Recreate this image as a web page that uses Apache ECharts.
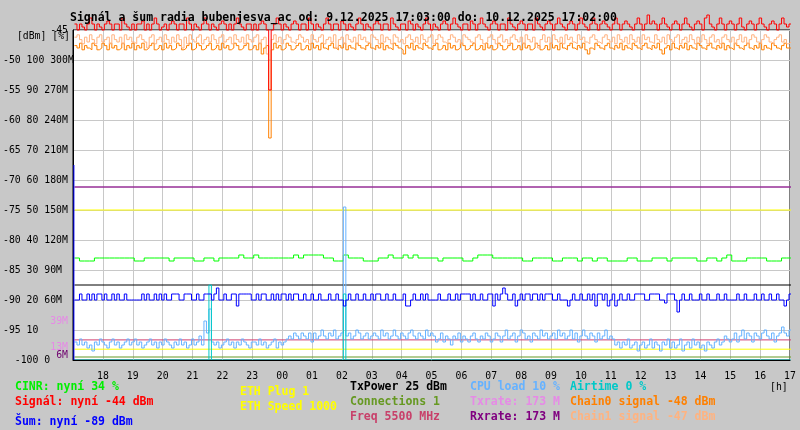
<!DOCTYPE html>
<html><head><meta charset="utf-8">
<script src="https://cdn.jsdelivr.net/npm/echarts@6/dist/echarts.min.js"></script>
<style>html,body{margin:0;padding:0;background:#c8c8c8}#c{width:800px;height:430px}</style>
</head><body><div id="c"></div>
<script>
// time: hours of day (17 = 17:00 on 9.12., 41 = 17:00 on 10.12.), first sample at 17:03
const START = 17 + 3/60;
const STEP5 = 5/60;    // 5-minute samples
const STEP10 = 10/60;  // 10-minute samples
const END = 41 + 2/60;

const yTickValues = [-100,-95,-90,-85,-80,-75,-70,-65,-60,-55,-50,-45];
const yTickLabels = ["  -100 0","-95 10","-90 20 60M","-85 30 90M","-80 40 120M","-75 50 150M","-70 60 180M","-65 70 210M","-60 80 240M","-55 90 270M","-50 100 300M",""];
const rateMarks = [39, 13, 6];
const rateMarkLabels = ["39M","13M","6M"];

// 5-minute samples (288)
const signal = [
-44,-45,-44,-44.5,-45,-44,-43,-44,-45,-44,-44.5,-45,-44,-43.5,-44,-45,-44,-44,-45,-43,-44,-44.5,-45,-44,
-45,-44,-44,-43.5,-45,-44,-45,-44,-43,-44,-45,-44.5,-44,-45,-44,-43.5,-44,-45,-44,-44,-45,-43,-44,-45,
-44,-44.5,-45,-44,-43,-44,-45,-44,-44.5,-45,-44,-43.5,-44,-45,-44,-45,-44,-43,-44,-44.5,-45,-44,-44,-45,
-44,-45,-44,-43.5,-44,-45,-55,-45,-44,-43,-44,-45,-44,-44.5,-45,-44,-43.5,-44,-45,-44,-44,-45,-43,-44,
-45,-44,-44.5,-45,-44,-43,-44,-45,-44,-44,-45,-43.5,-44,-45,-44,-44.5,-45,-44,-43,-44,-45,-44,-44.5,-45,
-44,-43.5,-44,-45,-44,-44,-45,-43,-44,-44.5,-45,-44,-44,-45,-43.5,-44,-45,-44,-44.5,-45,-44,-43,-44,-45,
-44,-44.5,-45,-44,-43.5,-44,-45,-44,-43,-44,-44.5,-45,-44,-44,-45,-43.5,-44,-45,-44,-43,-44,-44.5,-45,-44,
-43.5,-44,-45,-44,-44,-45,-43,-44,-44.5,-45,-44,-43.5,-44,-45,-44,-44,-45,-43,-44,-44.5,-45,-44,-43.5,-44,
-45,-44,-43,-44,-44.5,-45,-44,-43.5,-44,-45,-44,-43,-44,-44.5,-45,-44,-43,-44,-45,-44,-43.5,-44,-44.5,-45,
-44,-43,-44,-45,-44,-43.5,-44,-44.5,-45,-44,-43,-44,-45,-44,-42.5,-44,-43.5,-44,-45,-44,-43,-44,-44.5,-45,
-44,-43.5,-44,-45,-44,-43,-44,-44.5,-45,-44,-43.5,-44,-45,-43,-42.5,-44,-44.5,-45,-44,-43,-44,-45,-44,-43.5,
-44,-45,-44,-43,-44.5,-45,-44,-43.5,-44,-45,-44,-43,-44,-44.5,-45,-44,-43.5,-44,-45,-44,-43,-44,-44.5,-44];

const chain0 = [
-47.6,-48,-47.2,-48.3,-47.6,-48,-48.3,-47.2,-47.6,-48.3,-48,-47.2,-47.6,-48.3,-47.2,-48,-47.6,-48.3,-48,-47.2,-48.3,-47.6,-48,-47.2,
-48.3,-47.6,-48,-47.2,-48.3,-48,-47.6,-47.2,-48.3,-48,-47.6,-48.3,-47.2,-48,-47.6,-48.3,-48,-47.2,-47.6,-48.3,-48,-47.6,-47.2,-48.3,
-48,-47.2,-47.6,-48.3,-48,-47.6,-47.2,-48.3,-48,-47.6,-48.3,-47.2,-48,-47.6,-48.3,-48,-47.2,-47.6,-48.3,-48,-47.6,-47.2,-48.3,-48,
-47.6,-48.3,-47.2,-49,-48,-47.6,-63,-48.3,-47.2,-48,-47.6,-48.3,-48,-47.2,-47.6,-48.3,-48,-47.6,-47.2,-48.3,-48,-47.6,-48.3,-47.2,
-48,-47.6,-48.3,-47.2,-48,-48.3,-47.6,-47.2,-48,-48.3,-47.6,-48,-47.2,-48.3,-47.6,-48,-48.3,-47.2,-47.6,-48,-48.3,-47.6,-47.2,-48,
-48.3,-47.6,-48,-47.2,-48.3,-47.6,-48,-48.3,-47.2,-47.6,-48,-48.3,-49,-47.6,-48,-47.2,-48.3,-47.6,-48,-48.3,-47.2,-47.6,-48,-48.3,
-47.6,-47.2,-48.3,-48,-47.6,-48.3,-47.2,-48,-47.6,-48.3,-48,-47.2,-47.6,-48.3,-48,-47.6,-47.2,-48.3,-48,-47.6,-48.3,-47.2,-48,-47.6,
-48.3,-48,-47.2,-47.6,-48.3,-48,-47.6,-47.2,-48.3,-48,-47.6,-48.3,-47.2,-48,-47.6,-48.3,-48,-47.2,-47.6,-48.3,-48,-47.6,-48.3,-47.2,
-48,-47.6,-48.3,-47.2,-48,-48.3,-47.6,-47.2,-48,-48.3,-47.6,-48,-47.2,-48.3,-49,-48,-48.3,-47.2,-47.6,-48,-48.3,-47.6,-47.2,-48,
-48.3,-47.6,-48,-47.2,-48.3,-47.6,-48,-48.3,-47.2,-47.6,-48,-48.3,-47.6,-47.2,-48,-48.3,-47.6,-48,-47.2,-48.3,-49,-48,-47.6,-48.3,
-47.2,-48,-48.3,-47.6,-48,-47.2,-48.3,-47.6,-48,-48.3,-47.2,-47.6,-48,-48.3,-47.6,-47.2,-48,-48.3,-47.6,-48,-47.2,-48.3,-47.6,-48,
-48.3,-47.2,-47.6,-48,-48.3,-47.6,-47.2,-48,-48.3,-47.6,-48,-47.2,-48.3,-47.6,-48,-48.3,-47.2,-47.6,-48,-48.3,-47.6,-47.2,-48,-48];

const chain1 = [
-46.2,-45.8,-46.6,-47.3,-46.2,-47,-45.8,-46.6,-47.3,-46.2,-45.8,-47,-46.6,-46.2,-47.3,-45.8,-46.6,-47,-46.2,-47.3,-45.8,-46.6,-46.2,-47,
-47.3,-46.2,-45.8,-46.6,-47,-48,-46.2,-45.8,-47.3,-46.6,-46.2,-47,-45.8,-46.6,-47.3,-46.2,-47,-45.8,-46.6,-48,-46.2,-47.3,-45.8,-46.6,
-47,-46.2,-45.8,-47.3,-46.6,-46.2,-47,-45.8,-46.6,-47.3,-46.2,-45.8,-47,-46.6,-46.2,-47.3,-45.8,-46.6,-47,-46.2,-47.3,-45.8,-46.6,-47,
-46.2,-45.8,-47.3,-46.6,-46.2,-49,-50,-46.6,-45.8,-47,-46.2,-47.3,-46.6,-45.8,-46.2,-47,-47.3,-46.6,-45.8,-46.2,-47,-46.6,-47.3,-45.8,
-46.6,-47,-46.2,-45.8,-47.3,-46.6,-46.2,-47,-45.8,-48,-46.6,-46.2,-47.3,-45.8,-46.6,-47,-46.2,-47.3,-45.8,-46.6,-46.2,-47,-47.3,-45.8,
-46.2,-46.6,-47.3,-45.8,-47,-46.2,-46.6,-47.3,-45.8,-46.2,-47,-46.6,-47.3,-46.2,-45.8,-46.6,-47,-46.2,-47.3,-45.8,-46.6,-47,-46.2,-45.8,
-47.3,-46.6,-45.8,-46.2,-47,-47.3,-46.6,-45.8,-46.2,-47,-46.6,-47.3,-45.8,-46.2,-46.6,-47,-47.3,-46.2,-45.8,-46.6,-47.3,-47,-46.2,-45.8,
-46.6,-47.3,-46.2,-45.8,-47,-46.6,-47.3,-46.2,-45.8,-46.6,-47,-46.2,-47.3,-45.8,-46.6,-47,-46.2,-47.3,-48,-46.6,-45.8,-47,-46.2,-47.3,
-45.8,-46.6,-47,-46.2,-47.3,-45.8,-46.6,-46.2,-47,-47.3,-45.8,-46.6,-46.2,-47,-47.3,-46.2,-45.8,-46.6,-47,-47.3,-46.2,-45.8,-46.6,-47,
-46.2,-47.3,-45.8,-46.6,-47,-46.2,-47.3,-45.8,-46.6,-47,-46.2,-47.3,-45.8,-46.6,-46.2,-47,-47.3,-45.8,-46.6,-47,-46.2,-47.3,-45.8,-46.6,
-47,-46.2,-45.8,-47.3,-46.6,-46.2,-47,-45.8,-46.6,-47.3,-46.2,-47,-45.8,-46.6,-47.3,-46.2,-45.8,-47,-46.6,-47.3,-46.2,-45.8,-46.6,-47,
-46.2,-47.3,-46.6,-45.8,-47,-46.2,-47.3,-46.6,-45.8,-46.2,-47,-47.3,-46.6,-45.8,-46.2,-47,-47.3,-46.6,-46.2,-45.8,-47,-46.6,-47.3,-47];

const noise = [
-90,-90,-89,-90,-90,-89,-90,-89,-90,-89,-89,-90,-89,-90,-90,-89,-90,-89,-90,-90,-89,-90,-90,-90,
-90,-90,-90,-89,-90,-89,-90,-90,-89,-90,-89,-90,-89,-90,-90,-89,-89,-89,-90,-90,-89,-89,-89,-90,
-90,-89,-90,-90,-89,-89,-89,-90,-89,-88,-90,-90,-89,-90,-90,-89,-89,-91,-89,-89,-89,-89,-89,-90,
-90,-89,-90,-89,-89,-90,-90,-89,-90,-89,-90,-89,-89,-90,-89,-90,-89,-89,-90,-90,-89,-90,-90,-89,
-90,-90,-89,-90,-90,-90,-89,-90,-90,-89,-90,-90,-91,-90,-89,-90,-90,-89,-90,-90,-89,-90,-90,-89,
-90,-89,-89,-90,-90,-89,-90,-90,-89,-90,-90,-90,-89,-91,-91,-90,-89,-90,-90,-89,-90,-89,-90,-90,
-90,-90,-89,-90,-90,-90,-89,-90,-90,-89,-90,-89,-89,-89,-89,-90,-89,-90,-90,-89,-90,-90,-89,-89,
-91,-89,-90,-89,-88,-89,-90,-90,-89,-91,-90,-89,-90,-89,-89,-90,-89,-89,-90,-89,-90,-89,-89,-89,
-90,-90,-89,-90,-90,-90,-91,-90,-89,-90,-90,-89,-90,-90,-89,-90,-89,-91,-89,-89,-90,-89,-91,-90,
-89,-91,-90,-89,-90,-90,-89,-90,-90,-89,-89,-89,-89,-90,-90,-89,-89,-89,-89,-90,-90,-90.5,-89,-89,
-89,-90,-92,-90,-89,-90,-90,-89,-90,-90,-90,-89,-90,-90,-89,-90,-90,-90,-89,-90,-90,-89,-90,-90,
-90,-90,-89,-90,-90,-89,-90,-90,-90,-89,-90,-90,-89,-90,-90,-89,-90,-90,-89,-90,-90,-91,-90,-89];
const noiseStartup = [-100, -67.5];

const cpu = [
6,5,7,5,6,4,5,3,6,5,7,6,5,4,6,7,5,6,4,5,6,7,5,6,
7,5,6,4,5,6,7,5,6,4,6,5,7,6,5,4,6,5,7,5,6,4,5,7,
5,6,8,5,13,9,17,6,5,6,4,5,6,7,5,6,4,6,5,7,6,5,4,6,
6,5,7,5,6,4,5,6,7,4,6,5,6,7,8,7,9,8,7,9,8,7,9,6,
9,7,8,10,8,7,9,8,10,7,8,9,51,8,9,7,8,10,9,7,8,9,7,8,
9,8,7,10,8,9,7,8,10,8,7,9,8,7,9,10,8,7,9,8,7,10,8,9,
8,6,7,9,6,8,7,5,8,7,9,6,8,7,6,8,9,7,6,8,7,9,8,6,
7,9,8,6,8,10,7,8,9,6,8,10,9,7,8,6,9,8,7,10,8,9,7,8,
9,7,10,8,9,7,8,10,7,9,6,8,10,8,7,9,8,6,9,7,8,10,7,8,
7,5,6,4,6,5,7,4,5,6,3,5,6,4,5,7,4,6,5,3,6,5,7,4,
6,4,5,7,3,5,6,4,7,5,6,4,5,3,6,5,4,6,7,5,6,8,7,6,
7,9,6,8,10,7,9,8,6,9,8,7,9,10,8,7,9,6,8,9,11,9,8,10];

// 10-minute samples (144)
const cinr = [
34,33,33,33,34,34,34,34,34,34,34,34,
33,33,34,34,34,34,34,33,34,34,34,34,
33,33,34,34,33,34,34,34,34,35,34,34,
35,34,34,34,34,34,34,34,35,34,35,35,
35,35,34,34,33,33,35,34,34,34,33,33,
33,34,34,35,34,34,35,34,35,34,34,34,
34,33,34,34,34,34,33,33,34,35,35,35,
34,34,34,34,34,34,33,33,34,34,34,34,
33,33,34,34,34,33,34,34,33,34,34,33,
33,33,33,34,34,33,33,33,34,34,34,33,
34,34,34,34,34,33,33,34,34,33,34,35,
33,33,33,34,34,34,34,33,33,33,34,34];

// airtime: 5-minute sample index where the value changes, and the value from there on
const airtimeIdx = [0, 54, 55, 108, 109];
const airtimeVal = [0, 25, 0, 22, 0];

const txPower = 25;        // on % scale
const ethSpeed = 50;       // on % scale
const ethPlug = 3.6;       // on % scale
const freqLevel = 6.7;     // on % scale
const connections = 1;     // on % scale
const txrate = 173;        // M
const rxrate = 173;        // M

const C = {
  cinr:'#00ff00', signal:'#ff0000', noise:'#0000ff', eth:'#ffff00', txp:'#000000',
  conn:'#669922', freq:'#d04070', cpu:'#66b2ff', tx:'#e68ae6', rx:'#6e006e',
  air:'#00c8c8', ch0:'#ff8000', ch1:'#ffb380'
};

function seq(vals, step){ const d = vals.map((v,i)=>[START+i*step, v]); d.push([END, vals[vals.length-1]]); return d; }
function flat(v){ return [[START, v],[END, v]]; }
function runs(idx, val, step){ const d = idx.map((k,j)=>[START+k*step, val[j]]); d.push([END, val[val.length-1]]); return d; }
function line(name, data, color, yAxisIndex, extra){
  return Object.assign({name, type:'line', data, yAxisIndex, step:'end', symbol:'none', showSymbol:false,
    lineStyle:{color, width:1}, itemStyle:{color}, animation:false, silent:true}, extra||{});
}

const MONO = '"DejaVu Sans Mono", "Liberation Mono", monospace';
const chart = echarts.init(document.getElementById('c'), null, {renderer:'canvas'});

chart.setOption({
  backgroundColor:'#c8c8c8',
  animation:false,
  grid:{left:70, right:10, top:30, bottom:70, show:true, backgroundColor:'#ffffff', borderColor:'#000', borderWidth:1},
  xAxis:[{
    type:'value', min:17, max:41, interval:1,
    axisLine:{show:false}, axisTick:{show:false},
    splitLine:{show:true, lineStyle:{color:'#c8c8c8', width:1}},
    axisLabel:{margin:11, color:'#000', fontFamily:MONO, fontSize:9.8, showMinLabel:true, showMaxLabel:true,
      formatter:v=> v===17 ? '' : String(v%24).padStart(2,'0')}
  },{
    type:'value', min:17, max:41, position:'bottom', z:50,
    axisLine:{show:true, lineStyle:{color:'#000', width:1}}, axisTick:{show:false},
    axisLabel:{show:false}, splitLine:{show:false}
  }],
  yAxis:[{
    type:'value', min:-100, max:-45, interval:5,
    axisLine:{show:true, lineStyle:{color:'#000'}}, axisTick:{show:false},
    splitLine:{show:true, lineStyle:{color:'#c8c8c8', width:1}},
    axisLabel:{align:'left', margin:70, color:'#000', fontFamily:MONO, fontSize:9.8,
      formatter:v=>{ const k = yTickValues.indexOf(Math.round(v)); return k>=0 ? yTickLabels[k] : ''; }}
  },{
    type:'value', min:0, max:110, show:false
  },{
    type:'value', min:0, max:330, show:false
  }],
  series:[
    line('ETH Speed', flat(ethSpeed), C.eth, 1),
    line('ETH Plug', flat(ethPlug), C.eth, 1),
    line('Connections', flat(connections), C.conn, 1),
    line('Freq', flat(freqLevel), C.freq, 1),
    line('TxPower', flat(txPower), C.txp, 1),
    line('Txrate', flat(txrate), C.tx, 2),
    line('Rxrate', flat(rxrate), C.rx, 2),
    line('CINR', seq(cinr, STEP10), C.cinr, 1),
    line('CPU load', seq(cpu, STEP5), C.cpu, 1),
    line('Airtime', runs(airtimeIdx, airtimeVal, STEP5), C.air, 1),
    line('Šum', seq(noise, STEP5), C.noise, 0),
    line('Šum start', [[START-0.02, noiseStartup[0]],[START-0.02, noiseStartup[1]]], C.noise, 0, {step:false, clip:false}),
    line('Chain0', seq(chain0, STEP5), C.ch0, 0),
    line('Chain1', seq(chain1, STEP5), C.ch1, 0),
    line('Signál', seq(signal, STEP5), C.signal, 0, {clip:false})
  ]
});

const legend = [
  ['CINR: nyní 34 %', '#00ee00', 15, 387],
  ['Signál: nyní -44 dBm', '#ff0000', 15, 402],
  ['Šum: nyní -89 dBm', '#0000ff', 15, 422],
  ['ETH Plug 1', '#ffff00', 240, 392],
  ['ETH Speed 1000', '#ffff00', 240, 407],
  ['TxPower 25 dBm', '#000000', 350, 387],
  ['Connections 1', '#669922', 350, 402],
  ['Freq 5500 MHz', '#c8406a', 350, 417],
  ['CPU load 10 %', '#66b2ff', 470, 387],
  ['Txrate: 173 M', '#e68ae6', 470, 402],
  ['Rxrate: 173 M', '#800080', 470, 417],
  ['Airtime 0 %', '#00c8c8', 570, 387],
  ['Chain0 signal -48 dBm', '#ff8000', 570, 402],
  ['Chain1 signal -47 dBm', '#ffb380', 570, 417]
];
const g = [];
g.push({type:'text', x:70, y:18, z:100, style:{text:'Signál a šum radia bubenjesva_ac od: 9.12.2025 17:03:00 do: 10.12.2025 17:02:00',
  font:'bold 11.5px '+MONO, fill:'#000', align:'left', verticalAlign:'middle'}});
legend.forEach(l=>g.push({type:'text', x:l[2], y:l[3], style:{text:l[0], font:'bold 11.5px '+MONO, fill:l[1], align:'left', verticalAlign:'middle'}}));
g.push({type:'text', x:770, y:387, style:{text:'[h]', font:'9.8px '+MONO, fill:'#000', align:'left', verticalAlign:'middle'}});
const y45 = chart.convertToPixel({yAxisIndex:0}, -45);
g.push({type:'text', x:68, y:y45, style:{text:'-45', font:'9.8px '+MONO, fill:'#000', align:'right', verticalAlign:'middle'}});
g.push({type:'text', x:70, y:y45+6.5, style:{text:'[dBm] [%]', font:'9.8px '+MONO, fill:'#000', align:'right', verticalAlign:'middle'}});
const rateColors = [C.tx, C.tx, C.rx];
rateMarks.forEach((m,k)=>{
  const yy = chart.convertToPixel({yAxisIndex:2}, m);
  g.push({type:'text', x:68, y:yy + (k===2?1:0), style:{text:rateMarkLabels[k], font:'9.8px '+MONO, fill:rateColors[k], align:'right', verticalAlign:'middle'}});
});
chart.setOption({graphic:g});
</script></body></html>
